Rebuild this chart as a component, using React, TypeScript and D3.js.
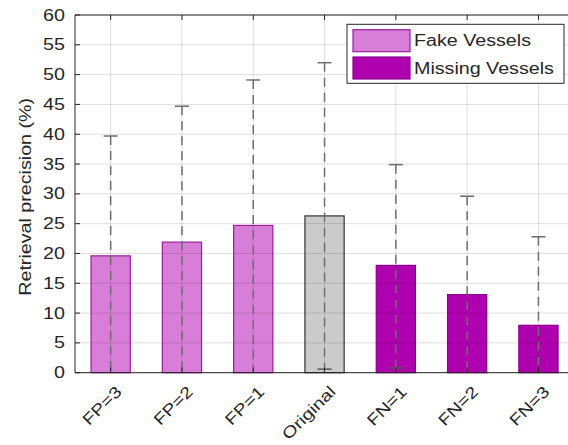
import React from 'react';
import * as d3 from 'd3';

const categories = ['FP=3', 'FP=2', 'FP=1', 'Original', 'FN=1', 'FN=2', 'FN=3'];
const groups = ['fake', 'fake', 'fake', 'orig', 'miss', 'miss', 'miss'];
const precision = [19.6, 21.9, 24.7, 26.3, 18.0, 13.1, 7.95];
const errUpper = [39.7, 44.7, 49.1, 52.0, 34.9, 29.6, 22.8];
const errLower = [-0.5, -0.9, -0.1, 0.6, 0.8, -3.4, -6.9];
const yTicks = d3.range(0, 61, 5);
const legendItems = [
  { label: 'Fake Vessels', group: 'fake' },
  { label: 'Missing Vessels', group: 'miss' },
];

const W = 568;
const H = 445;
const M = { left: 75, top: 15, bottom: 372.7 };
const TEXT = '#262626';
const FONT = "'Liberation Sans', Arial, sans-serif";
const FS = 16;
const SX = 1.23; // glyphs in the source are drawn wider than Arial

const fills: Record<string, string> = { fake: '#d97ed8', orig: '#cbcbcb', miss: '#af00af' };
const edges: Record<string, string> = { fake: '#9a1d9a', orig: '#333333', miss: '#8c008c' };

export default function App() {
  const x = d3.scaleBand<string>()
    .domain(categories)
    .range([M.left, M.left + 7 * 71.3])
    .paddingInner(0.45)
    .paddingOuter(0.225);
  const y = d3.scaleLinear().domain([0, 60]).range([M.bottom, M.top]);
  const cx = (c: string) => (x(c) as number) + x.bandwidth() / 2;
  const right = M.left + 7 * 71.3;

  return (
    <svg width={W} height={H} style={{ position: 'absolute', left: 0, top: 0, background: '#fff' }}
      fontFamily={FONT}>
      <rect x={0} y={0} width={W} height={H} fill="#fff" />

      {/* bars */}
      {categories.map((c, i) => (
        <rect key={c} x={x(c)} y={y(precision[i])}
          width={x.bandwidth()} height={y(0) - y(precision[i])}
          fill={fills[groups[i]]} stroke={edges[groups[i]]} strokeWidth={1.2} />
      ))}

      {/* grid, drawn on top faintly */}
      <g stroke="#000" strokeOpacity={0.13} strokeWidth={1}>
        {yTicks.map(t => (
          <line key={t} x1={M.left} x2={right} y1={y(t)} y2={y(t)} />
        ))}
        {categories.map(c => (
          <line key={c} x1={cx(c)} x2={cx(c)} y1={M.top} y2={M.bottom} />
        ))}
      </g>

      {/* error bars */}
      <g stroke="#6e6e6e" strokeWidth={1.5}>
        {categories.map((c, i) => {
          const lo = Math.max(errLower[i], 0);
          return (
            <g key={c}>
              <line x1={cx(c)} x2={cx(c)} y1={y(errUpper[i])} y2={y(lo)} strokeDasharray="9,6" />
              <line x1={cx(c) - 7} x2={cx(c) + 7} y1={y(errUpper[i])} y2={y(errUpper[i])} />
              {errLower[i] > 0 && (
                <line x1={cx(c) - 7} x2={cx(c) + 7} y1={y(errLower[i])} y2={y(errLower[i])} stroke="#555" />
              )}
            </g>
          );
        })}
      </g>

      {/* axes box */}
      <g stroke={TEXT} strokeWidth={1} fill="none">
        <line x1={M.left} x2={M.left} y1={M.top} y2={M.bottom} />
        <line x1={M.left} x2={right} y1={M.bottom} y2={M.bottom} />
        <line x1={M.left} x2={right} y1={M.top} y2={M.top} />
        {yTicks.map(t => (
          <line key={t} x1={M.left} x2={M.left + 5} y1={y(t)} y2={y(t)} />
        ))}
        {categories.map(c => (
          <g key={c}>
            <line x1={cx(c)} x2={cx(c)} y1={M.bottom} y2={M.bottom - 5} />
            <line x1={cx(c)} x2={cx(c)} y1={M.top} y2={M.top + 5} />
          </g>
        ))}
      </g>

      {/* y tick labels */}
      {yTicks.map(t => (
        <g key={t} transform={`translate(${M.left - 10},${y(t)}) scale(${SX},1)`}>
          <text dy="0.35em" textAnchor="end" fontSize={FS} fill={TEXT}>{t}</text>
        </g>
      ))}
      <g transform={`translate(25,${(M.top + M.bottom) / 2 + 3}) rotate(-90) scale(${SX},1)`}>
        <text textAnchor="middle" dy="0.35em" fontSize={FS} fill={TEXT}>Retrieval precision (%)</text>
      </g>

      {/* x tick labels */}
      {categories.map(c => (
        <g key={c} transform={`translate(${cx(c) + 12},${M.bottom + 20}) rotate(-45) scale(${SX},1)`}>
          <text textAnchor="end" fontSize={FS} fill={TEXT}>{c}</text>
        </g>
      ))}

      {/* legend */}
      <g>
        <rect x={347} y={24.3} width={217} height={59} fill="#fff" stroke={TEXT} strokeWidth={1} />
        {legendItems.map((l, i) => (
          <g key={l.label} transform={`translate(353,${29.7 + i * 27.3})`}>
            <rect x={0} y={0} width={57} height={22} fill={fills[l.group]} stroke={edges[l.group]} strokeWidth={1.2} />
            <g transform={`translate(61,11) scale(${SX},1)`}>
              <text dy="0.36em" fontSize={FS} fill={TEXT}>{l.label}</text>
            </g>
          </g>
        ))}
      </g>
    </svg>
  );
}
